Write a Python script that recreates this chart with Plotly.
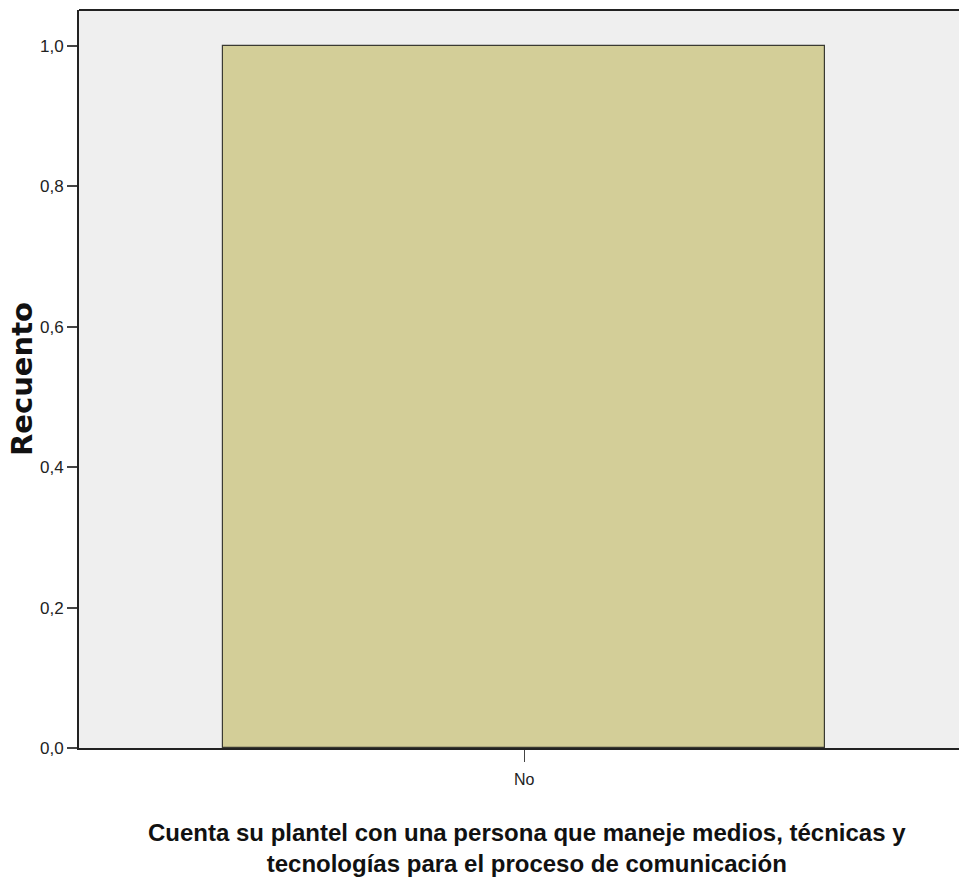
import plotly.graph_objects as go

categories = ["No"]
counts = [1.0]
y_ticks = [0.0, 0.2, 0.4, 0.6, 0.8, 1.0]

fig = go.Figure()
fig.add_trace(go.Bar(
    x=categories, y=counts, width=0.684,
    marker=dict(color="#d3ce98", line=dict(color="#3a3a32", width=1.2)),
))

narrow = "Liberation Sans Narrow, Liberation Sans, Arial, sans-serif"
fig.update_layout(
    width=959, height=885,
    margin=dict(l=79, r=0, t=10, b=137),
    paper_bgcolor="white", plot_bgcolor="#efefef",
    separators=",.",
    showlegend=False,
    bargap=0,
    xaxis=dict(
        range=[-0.506, 0.494], showgrid=False, zeroline=False,
        showline=True, linecolor="#222", linewidth=1.8,
        ticks="outside", ticklen=12, tickcolor="#444", tickwidth=1,
        ticklabelstandoff=4,
        tickfont=dict(family=narrow, size=16, color="#222"),
    ),
    yaxis=dict(
        range=[0, 1.0513], showgrid=False, zeroline=False,
        showline=True, linecolor="#222", linewidth=1.8,
        ticks="outside", ticklen=10, tickcolor="#444", tickwidth=1.5,
        tickvals=y_ticks, tickformat=".1f",
        tickfont=dict(family=narrow, size=17, color="#222"),
    ),
    shapes=[dict(type="line", xref="paper", yref="paper", x0=0, x1=1, y0=1, y1=1,
                 line=dict(color="#222", width=1.8))],
    annotations=[
        dict(text="<b>Recuento</b>", xref="paper", yref="paper", x=-0.0648, y=0.5,
             xanchor="center", yanchor="middle", textangle=-90, showarrow=False,
             font=dict(family="DejaVu Sans, sans-serif", size=29, color="#111")),
        dict(text="<b>Cuenta su plantel con una persona que maneje medios, técnicas y<br>tecnologías para el proceso de comunicación</b>",
             xref="paper", yref="paper", x=0.509, y=-0.093, xanchor="center", yanchor="top",
             showarrow=False, align="center",
             font=dict(family=narrow, size=24, color="#111")),
    ],
)

fig.write_html("out.html", config={"displayModeBar": False},
               post_script="document.body.style.margin='0';document.body.style.overflow='hidden';")
